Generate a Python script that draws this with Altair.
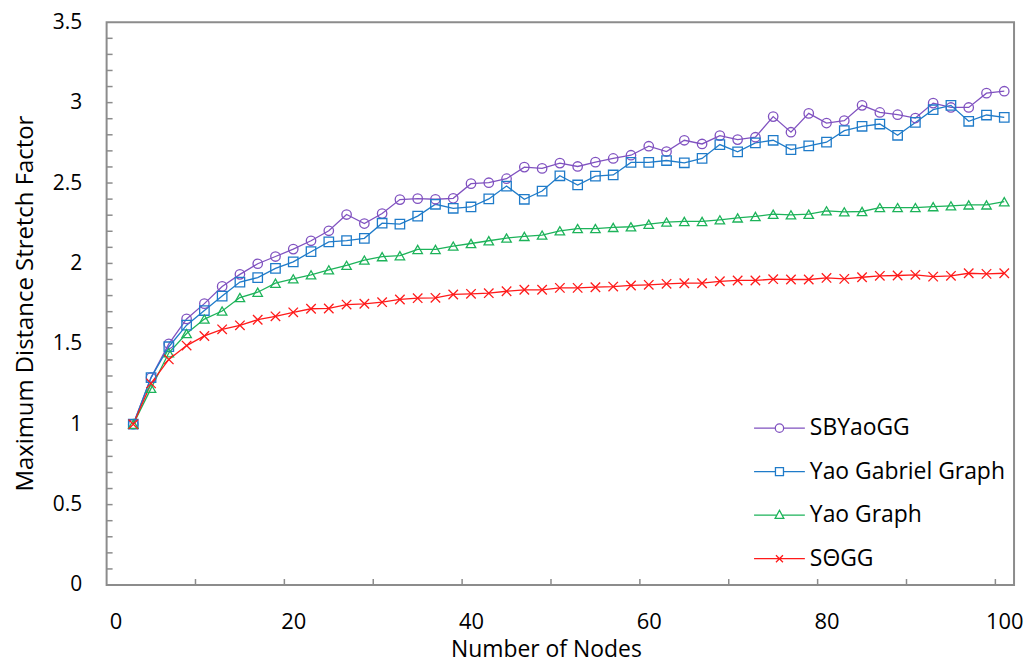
import altair as alt
import pandas as pd

nodes = [2, 4, 6, 8, 10, 12, 14, 16, 18, 20, 22, 24, 26, 28, 30, 32, 34, 36, 38, 40,
         42, 44, 46, 48, 50, 52, 54, 56, 58, 60, 62, 64, 66, 68, 70, 72, 74, 76, 78, 80,
         82, 84, 86, 88, 90, 92, 94, 96, 98, 100]

series_names = ["SBYaoGG", "Yao Gabriel Graph", "Yao Graph", "SΘGG"]

sbyaogg = [1.0, 1.29, 1.50, 1.655, 1.75, 1.857, 1.932, 1.998, 2.043, 2.089,
           2.141, 2.203, 2.304, 2.248, 2.31, 2.397, 2.403, 2.399, 2.405, 2.496,
           2.502, 2.527, 2.599, 2.591, 2.624, 2.603, 2.63, 2.653, 2.673, 2.729,
           2.696, 2.766, 2.743, 2.795, 2.77, 2.785, 2.913, 2.816, 2.933, 2.873,
           2.888, 2.983, 2.939, 2.925, 2.904, 2.997, 2.97, 2.97, 3.059, 3.071]

yao_gabriel = [1.0, 1.29, 1.482, 1.616, 1.707, 1.797, 1.884, 1.912, 1.969, 2.01,
               2.073, 2.134, 2.142, 2.156, 2.25, 2.244, 2.294, 2.368, 2.343, 2.351,
               2.401, 2.481, 2.399, 2.45, 2.545, 2.488, 2.543, 2.55, 2.628, 2.628,
               2.64, 2.626, 2.653, 2.739, 2.694, 2.75, 2.766, 2.708, 2.731, 2.754,
               2.826, 2.853, 2.867, 2.797, 2.877, 2.956, 2.983, 2.884, 2.923, 2.908]

yao_graph = [1.0, 1.223, 1.444, 1.564, 1.654, 1.704, 1.788, 1.821, 1.877, 1.904,
             1.929, 1.96, 1.988, 2.021, 2.042, 2.048, 2.087, 2.087, 2.108, 2.124,
             2.141, 2.158, 2.168, 2.176, 2.203, 2.217, 2.217, 2.224, 2.228, 2.244,
             2.257, 2.261, 2.261, 2.271, 2.283, 2.292, 2.306, 2.302, 2.306, 2.327,
             2.321, 2.323, 2.347, 2.347, 2.347, 2.353, 2.358, 2.364, 2.364, 2.384]

sogg = [1.0, 1.254, 1.403, 1.489, 1.549, 1.59, 1.615, 1.65, 1.671, 1.696,
        1.718, 1.72, 1.744, 1.749, 1.759, 1.776, 1.784, 1.786, 1.807, 1.811,
        1.815, 1.827, 1.836, 1.836, 1.848, 1.848, 1.852, 1.856, 1.863, 1.867,
        1.873, 1.877, 1.877, 1.889, 1.894, 1.894, 1.902, 1.9, 1.9, 1.91,
        1.904, 1.914, 1.923, 1.925, 1.929, 1.918, 1.923, 1.939, 1.935, 1.939]

x_tick_labels = [0, 20, 40, 60, 80, 100]
y_tick_labels = [0, 0.5, 1, 1.5, 2, 2.5, 3, 3.5]
x_tick_marks = [9, 19, 29, 39, 49, 59, 69, 79, 89, 99]
y_tick_marks = [0.1, 0.2, 0.3, 0.4, 0.5, 0.6, 0.7, 0.8, 0.9, 1.0, 1.1, 1.2,
                1.3, 1.4, 1.5, 1.6, 1.7, 1.8, 1.9, 2.0, 2.1, 2.2, 2.3, 2.4,
                2.5, 2.6, 2.7, 2.8, 2.9, 3.0, 3.1, 3.2, 3.3, 3.4]

colors = ["#8052C0", "#1F7BC9", "#1DB35A", "#FF1A1A"]
marker_shapes = ["circle", "square", "triangle-up", "M-1,-1L1,1M-1,1L1,-1"]
legend_shapes = [
    "M-1.457,0H-0.24M0.24,0H1.457M0.24,0A0.24,0.24 0 1,1 -0.24,0A0.24,0.24 0 1,1 0.24,0",
    "M-1.457,0H-0.23M0.23,0H1.457M-0.23,-0.23H0.23V0.23H-0.23Z",
    "M-1.457,0H-0.16M0.16,0H1.457M0,-0.28L0.25,0.18L-0.25,0.18Z",
    "M-1.457,0H1.457M-0.2,-0.2L0.2,0.2M-0.2,0.2L0.2,-0.2",
]

FONT = "Open Sans"

rows = []
for name, vals in zip(series_names, [sbyaogg, yao_gabriel, yao_graph, sogg]):
    for n, v in zip(nodes, vals):
        rows.append({"nodes": n, "value": v, "series": name})
df = pd.DataFrame(rows)

x_scale = alt.Scale(domain=[-1, 101.1], nice=False, zero=False)
y_scale = alt.Scale(domain=[0, 3.5], nice=False, zero=False)
color_scale = alt.Scale(domain=series_names, range=colors)

x_axis = alt.Axis(values=x_tick_labels, format="d", ticks=False, domain=False, grid=False,
                  labelPadding=27, labelFontSize=22, labelFont=FONT, labelColor="#000",
                  title="Number of Nodes", titleFont=FONT, titleFontSize=23,
                  titleFontWeight="normal", titleColor="#000", titleX=441, titleY=72,
                  titleAlign="center", titleBaseline="alphabetic")
y_axis = alt.Axis(values=y_tick_labels, format="~g", ticks=False, domain=False, grid=False,
                  labelPadding=25, labelFontSize=21, labelFont=FONT, labelColor="#000",
                  title="Maximum Distance Stretch Factor", titleFont=FONT, titleFontSize=24,
                  titleFontWeight="normal", titleColor="#000", titleAngle=270,
                  titleX=-74, titleY=282, titleAlign="center", titleBaseline="alphabetic")


def X(field):
    return alt.X(field, scale=x_scale, axis=x_axis)


def Y(field):
    return alt.Y(field, scale=y_scale, axis=y_axis)


base = alt.Chart(df)

lines = base.mark_line(strokeWidth=1.3).encode(
    x=X("nodes:Q"), y=Y("value:Q"),
    color=alt.Color("series:N", scale=color_scale, legend=None),
)

points = base.mark_point(filled=False, size=90, strokeWidth=1.3, opacity=1).encode(
    x=X("nodes:Q"), y=Y("value:Q"),
    color=alt.Color("series:N", scale=color_scale, legend=None),
    shape=alt.Shape("series:N", scale=alt.Scale(domain=series_names, range=marker_shapes),
                    legend=None),
)

leg = alt.Legend(
    title=None, orient="none", legendX=657, legendY=389, padding=0,
    symbolSize=1225, symbolStrokeWidth=1.3, labelFont=FONT, labelFontSize=23,
    labelColor="#000", labelOffset=12, rowPadding=12.7, labelLimit=0,
    symbolFillColor="transparent",
)

legend_layer = base.transform_filter("false").mark_point(
    filled=False, strokeWidth=1.3, opacity=1
).encode(
    x=X("nodes:Q"), y=Y("value:Q"),
    color=alt.Color("series:N", scale=color_scale, legend=leg),
    shape=alt.Shape("series:N", scale=alt.Scale(domain=series_names, range=legend_shapes),
                    legend=leg),
)

ytick_df = pd.DataFrame({"t": y_tick_marks})
xtick_df = pd.DataFrame({"t": x_tick_marks})

yticks = alt.Chart(ytick_df).mark_rule(color="#8c8c8c", strokeWidth=1.5).encode(
    y=Y("t:Q"),
    x=alt.value(0), x2=alt.value(6),
)
xticks = alt.Chart(xtick_df).mark_rule(color="#8c8c8c", strokeWidth=1.5).encode(
    x=X("t:Q"),
    y=alt.value(565), y2=alt.value(559),
)

chart = alt.layer(lines, points, legend_layer, yticks, xticks).resolve_scale(
    color="independent", shape="independent"
).properties(
    width=911, height=565,
    autosize=alt.AutoSizeParams(type="none"),
    padding={"left": 99, "top": 13, "right": 10, "bottom": 77},
    background="white",
).configure_view(stroke="#8c8c8c", strokeWidth=2)

chart.save("out.html", embed_options={"renderer": "svg", "actions": False})
